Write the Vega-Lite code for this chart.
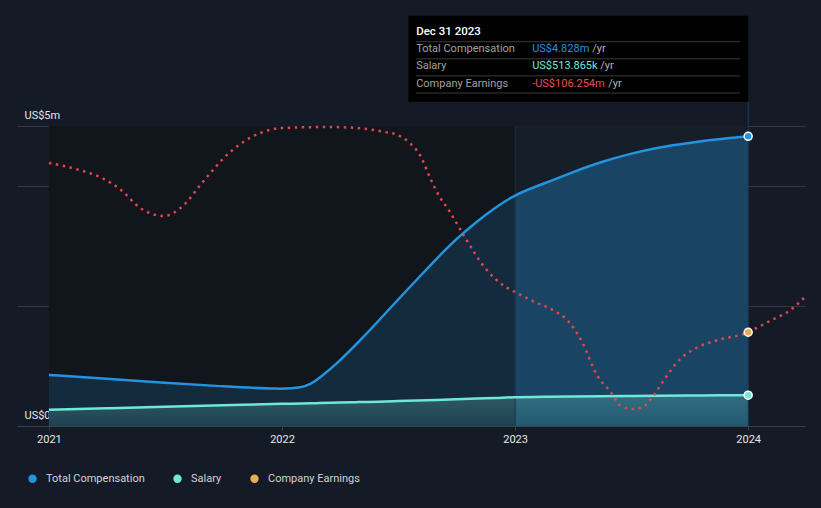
{
  "$schema": "https://vega.github.io/schema/vega-lite/v6.json",
  "width": 788,
  "height": 426,
  "autosize": {"type": "none"},
  "padding": {"left": 17, "top": 0, "right": 16, "bottom": 82},
  "background": "#151b26",
  "config": {
    "view": {"stroke": null},
    "font": "Roboto",
    "axisX": {
      "grid": false,
      "tickCount": {"interval": "year", "step": 1},
      "labelExpr": "timeFormat(datum.value, '%Y')",
      "domainColor": "#3a404a",
      "tickColor": "#3a404a",
      "tickSize": 4,
      "labelColor": "#e6e6e6",
      "labelFontSize": 11,
      "labelFont": "Roboto",
      "labelPadding": 3,
      "labelFlush": false
    }
  },
  "datasets": {
    "comp": [
      {"date": "2021-01-01T00:00", "total": 0.85, "salary": 0.27},
      {"date": "2021-04-01T00:00", "total": 0.79, "salary": 0.295},
      {"date": "2021-07-01T00:00", "total": 0.72, "salary": 0.32},
      {"date": "2021-10-01T00:00", "total": 0.66, "salary": 0.345},
      {"date": "2022-01-01T00:00", "total": 0.61, "salary": 0.37},
      {"date": "2022-02-01T00:00", "total": 0.64, "salary": 0.375},
      {"date": "2022-02-15T00:00", "total": 0.7, "salary": 0.378},
      {"date": "2022-03-01T00:00", "total": 0.8, "salary": 0.382},
      {"date": "2022-04-01T00:00", "total": 1.08, "salary": 0.39},
      {"date": "2022-05-01T00:00", "total": 1.4, "salary": 0.398},
      {"date": "2022-06-01T00:00", "total": 1.75, "salary": 0.406},
      {"date": "2022-07-01T00:00", "total": 2.1, "salary": 0.415},
      {"date": "2022-08-01T00:00", "total": 2.45, "salary": 0.424},
      {"date": "2022-09-01T00:00", "total": 2.8, "salary": 0.434},
      {"date": "2022-10-01T00:00", "total": 3.12, "salary": 0.445},
      {"date": "2022-11-01T00:00", "total": 3.4, "salary": 0.457},
      {"date": "2022-12-01T00:00", "total": 3.64, "salary": 0.468},
      {"date": "2023-01-01T00:00", "total": 3.86, "salary": 0.48},
      {"date": "2023-02-15T00:00", "total": 4.04, "salary": 0.486},
      {"date": "2023-04-01T00:00", "total": 4.23, "salary": 0.492},
      {"date": "2023-05-15T00:00", "total": 4.4, "salary": 0.497},
      {"date": "2023-07-01T00:00", "total": 4.54, "salary": 0.501},
      {"date": "2023-08-15T00:00", "total": 4.65, "salary": 0.505},
      {"date": "2023-10-01T00:00", "total": 4.72, "salary": 0.508},
      {"date": "2023-11-15T00:00", "total": 4.78, "salary": 0.511},
      {"date": "2024-01-01T00:00", "total": 4.828, "salary": 0.513865}
    ],
    "earnings": [
      {"date": "2021-01-01T00:00", "earnings": 63},
      {"date": "2021-02-12T00:00", "earnings": 57},
      {"date": "2021-03-25T00:00", "earnings": 48},
      {"date": "2021-04-22T00:00", "earnings": 37},
      {"date": "2021-05-24T00:00", "earnings": 18},
      {"date": "2021-06-29T00:00", "earnings": 10},
      {"date": "2021-08-02T00:00", "earnings": 22},
      {"date": "2021-08-26T00:00", "earnings": 41},
      {"date": "2021-10-12T00:00", "earnings": 74},
      {"date": "2021-11-28T00:00", "earnings": 93},
      {"date": "2022-01-01T00:00", "earnings": 98},
      {"date": "2022-03-16T00:00", "earnings": 99},
      {"date": "2022-04-28T00:00", "earnings": 98},
      {"date": "2022-06-11T00:00", "earnings": 94},
      {"date": "2022-07-01T00:00", "earnings": 91},
      {"date": "2022-07-20T00:00", "earnings": 83},
      {"date": "2022-08-05T00:00", "earnings": 71},
      {"date": "2022-08-21T00:00", "earnings": 48},
      {"date": "2022-09-05T00:00", "earnings": 29},
      {"date": "2022-09-18T00:00", "earnings": 17},
      {"date": "2022-10-15T00:00", "earnings": -12},
      {"date": "2022-11-15T00:00", "earnings": -42},
      {"date": "2022-12-15T00:00", "earnings": -60},
      {"date": "2023-01-01T00:00", "earnings": -66},
      {"date": "2023-02-01T00:00", "earnings": -76},
      {"date": "2023-03-01T00:00", "earnings": -84},
      {"date": "2023-03-25T00:00", "earnings": -95},
      {"date": "2023-04-15T00:00", "earnings": -115},
      {"date": "2023-05-10T00:00", "earnings": -150},
      {"date": "2023-06-01T00:00", "earnings": -167},
      {"date": "2023-06-14T00:00", "earnings": -179},
      {"date": "2023-07-03T00:00", "earnings": -183},
      {"date": "2023-07-20T00:00", "earnings": -181},
      {"date": "2023-08-04T00:00", "earnings": -171},
      {"date": "2023-08-20T00:00", "earnings": -156},
      {"date": "2023-09-15T00:00", "earnings": -134},
      {"date": "2023-10-15T00:00", "earnings": -121},
      {"date": "2023-11-15T00:00", "earnings": -114},
      {"date": "2024-01-01T00:00", "earnings": -106.254},
      {"date": "2024-01-20T00:00", "earnings": -100},
      {"date": "2024-02-10T00:00", "earnings": -93},
      {"date": "2024-03-05T00:00", "earnings": -85},
      {"date": "2024-03-30T00:00", "earnings": -71}
    ],
    "latest": [
      {"date": "2024-01-01T00:00", "series": "Total Compensation", "value": 4.828},
      {"date": "2024-01-01T00:00", "series": "Salary", "value": 0.513865},
      {"date": "2024-01-01T00:00", "series": "Company Earnings", "value": -106.254}
    ],
    "tooltip": [
      {"row": 0, "label": "Total Compensation", "value": "US$4.828m", "series": "Total Compensation"},
      {"row": 1, "label": "Salary", "value": "US$513.865k", "series": "Salary"},
      {"row": 2, "label": "Company Earnings", "value": "-US$106.254m", "series": "Company Earnings"}
    ],
    "header": [{"title": "Dec 31 2023"}],
    "one": [{"id": 1}]
  },
  "layer": [
    {
      "layer": [
        {
          "data": {"name": "one"},
          "mark": {"type": "rect", "fill": "#11151c"},
          "encoding": {
            "x": {"datum": {"year": 2021, "month": 1, "date": 1}, "type": "temporal"},
            "x2": {"datum": {"year": 2023, "month": 1, "date": 1}},
            "y": {"datum": 0, "type": "quantitative"},
            "y2": {"datum": 5}
          }
        },
        {
          "data": {"name": "one"},
          "mark": {"type": "rect", "fill": "#161e2a"},
          "encoding": {
            "x": {"datum": {"year": 2023, "month": 1, "date": 1}, "type": "temporal"},
            "x2": {"datum": {"year": 2024, "month": 1, "date": 1}},
            "y": {"datum": 0, "type": "quantitative"},
            "y2": {"datum": 5}
          }
        },
        {
          "data": {"name": "comp"},
          "mark": {
            "type": "area",
            "interpolate": "basis",
            "fill": {
              "gradient": "linear", "x1": 0, "x2": 1, "y1": 0, "y2": 0,
              "stops": [
                {"offset": 0, "color": "rgba(35,148,223,0.17)"},
                {"offset": 0.664, "color": "rgba(35,148,223,0.17)"},
                {"offset": 0.668, "color": "rgba(35,148,223,0.32)"},
                {"offset": 1, "color": "rgba(35,148,223,0.32)"}
              ]
            }
          },
          "encoding": {
            "x": {
              "field": "date", "type": "temporal", "title": null,
              "scale": {"domain": [{"year": 2020, "month": 11, "date": 12}, {"year": 2024, "month": 3, "date": 30}]}
            },
            "y": {
              "field": "total", "type": "quantitative", "title": null,
              "scale": {"domain": [0, 7.1], "nice": false, "zero": false},
              "axis": {
                "grid": true,
                "gridColor": "#343a44",
                "gridWidth": 1,
                "values": [0, 2, 4, 5],
                "labelExpr": "datum.value == 0 ? 'US$0' : (datum.value == 5 ? 'US$5m' : '')",
                "domain": false,
                "ticks": false,
                "labelAlign": "left",
                "labelBaseline": "alphabetic",
                "labelPadding": -7,
                "labelOffset": -8,
                "labelColor": "#e6e6e6",
                "labelFontSize": 11,
                "labelFont": "Roboto"
              }
            }
          }
        },
        {
          "data": {"name": "comp"},
          "mark": {
            "type": "area",
            "interpolate": "monotone",
            "fill": {
              "gradient": "linear", "x1": 0, "x2": 0, "y1": 0, "y2": 1,
              "stops": [
                {"offset": 0, "color": "rgba(113,231,214,0.26)"},
                {"offset": 1, "color": "rgba(113,231,214,0.12)"}
              ]
            }
          },
          "encoding": {
            "x": {"field": "date", "type": "temporal", "title": null},
            "y": {"field": "salary", "type": "quantitative", "title": null}
          }
        },
        {
          "data": {"name": "one"},
          "mark": {"type": "rule", "color": "#1b2f45", "strokeWidth": 1},
          "encoding": {
            "x": {"datum": {"year": 2023, "month": 1, "date": 1}, "type": "temporal"},
            "y": {"datum": 0, "type": "quantitative"},
            "y2": {"datum": 5}
          }
        },
        {
          "data": {"name": "one"},
          "mark": {"type": "rule", "color": "#1f3b59", "strokeWidth": 1},
          "encoding": {
            "x": {"datum": {"year": 2024, "month": 1, "date": 1}, "type": "temporal"},
            "y": {"datum": 0, "type": "quantitative"},
            "y2": {"datum": 5.405}
          }
        },
        {
          "data": {"name": "comp"},
          "mark": {"type": "line", "interpolate": "basis", "color": "#2394df", "strokeWidth": 2.5},
          "encoding": {
            "x": {"field": "date", "type": "temporal", "title": null},
            "y": {"field": "total", "type": "quantitative", "title": null}
          }
        },
        {
          "data": {"name": "comp"},
          "mark": {"type": "line", "interpolate": "monotone", "color": "#71e7d6", "strokeWidth": 2.5},
          "encoding": {
            "x": {"field": "date", "type": "temporal", "title": null},
            "y": {"field": "salary", "type": "quantitative", "title": null}
          }
        }
      ]
    },
    {
      "layer": [
        {
          "data": {"name": "earnings"},
          "mark": {"type": "line", "interpolate": "monotone", "color": "#e0474c", "strokeWidth": 2.5, "strokeDash": [2.5, 4.5], "clip": true},
          "encoding": {
            "x": {"field": "date", "type": "temporal", "title": null},
            "y": {"field": "earnings", "type": "quantitative", "axis": null, "scale": {"domain": [-200, 226], "nice": false, "zero": false}}
          }
        },
        {
          "data": {"name": "latest"},
          "transform": [{"filter": "datum.series == 'Company Earnings'"}],
          "mark": {"type": "point", "filled": true, "opacity": 1, "size": 64, "stroke": "#ffffff", "strokeWidth": 1.5, "shape": "circle"},
          "encoding": {
            "x": {"field": "date", "type": "temporal", "title": null},
            "y": {"field": "value", "type": "quantitative", "axis": null},
            "color": {"field": "series", "type": "nominal"}
          }
        }
      ]
    },
    {
      "data": {"name": "latest"},
      "transform": [{"filter": "datum.series != 'Company Earnings'"}],
      "mark": {"type": "point", "filled": true, "opacity": 1, "size": 64, "stroke": "#ffffff", "strokeWidth": 1.5, "shape": "circle"},
      "encoding": {
        "x": {"field": "date", "type": "temporal", "title": null},
        "y": {"field": "value", "type": "quantitative", "axis": null, "scale": {"domain": [0, 7.1], "nice": false, "zero": false}},
        "color": {
          "field": "series", "type": "nominal",
          "scale": {"domain": ["Total Compensation", "Salary", "Company Earnings"], "range": ["#2394df", "#71e7d6", "#e9ad5a"]},
          "legend": {
            "title": null, "orient": "none", "legendX": 10, "legendY": 473, "direction": "horizontal",
            "symbolType": "circle", "symbolSize": 70, "symbolStrokeWidth": 0,
            "labelColor": "#d0d3d8", "labelFontSize": 11, "labelFont": "Roboto",
            "columnPadding": 27, "labelOffset": 8, "padding": 0
          }
        }
      }
    },
    {
      "layer": [
        {
          "data": {"name": "one"},
          "mark": {"type": "rect", "fill": "#000000"},
          "encoding": {
            "x": {"datum": {"year": 2022, "month": 7, "date": 18}, "type": "temporal"},
            "x2": {"datum": {"year": 2024, "month": 1, "date": 1}},
            "y": {"datum": -2.52, "type": "quantitative", "axis": null, "scale": {"domain": [21.473, -3.439], "nice": false, "zero": false}},
            "y2": {"datum": 2.51}
          }
        },
        {
          "data": {"name": "one"},
          "mark": {"type": "rule", "color": "#3a3a3a", "strokeWidth": 1},
          "encoding": {
            "x": {"datum": {"year": 2022, "month": 7, "date": 30}, "type": "temporal"},
            "x2": {"datum": {"year": 2023, "month": 12, "date": 19}},
            "y": {"datum": -1, "type": "quantitative"}
          }
        },
        {
          "data": {"name": "tooltip"},
          "mark": {"type": "rule", "color": "#3a3a3a", "strokeWidth": 1},
          "encoding": {
            "x": {"datum": {"year": 2022, "month": 7, "date": 30}, "type": "temporal"},
            "x2": {"datum": {"year": 2023, "month": 12, "date": 19}},
            "y": {"field": "row", "type": "quantitative"}
          }
        },
        {
          "data": {"name": "header"},
          "mark": {"type": "text", "align": "left", "baseline": "middle", "dx": -332, "dy": -10, "fontSize": 11.5, "fontWeight": 500, "color": "#ffffff"},
          "encoding": {
            "x": {"datum": {"year": 2024, "month": 1, "date": 1}, "type": "temporal"},
            "y": {"datum": -1, "type": "quantitative"},
            "text": {"field": "title"}
          }
        },
        {
          "data": {"name": "tooltip"},
          "mark": {"type": "text", "align": "left", "baseline": "middle", "dx": -332, "dy": -9.5, "fontSize": 11, "color": "#a0a0a0"},
          "encoding": {
            "x": {"datum": {"year": 2024, "month": 1, "date": 1}, "type": "temporal"},
            "y": {"field": "row", "type": "quantitative"},
            "text": {"field": "label"}
          }
        },
        {
          "data": {"name": "tooltip"},
          "mark": {"type": "text", "align": "left", "baseline": "middle", "dx": -216, "dy": -9.5, "fontSize": 11},
          "encoding": {
            "x": {"datum": {"year": 2024, "month": 1, "date": 1}, "type": "temporal"},
            "y": {"field": "row", "type": "quantitative"},
            "text": {"field": "value"},
            "fill": {
              "field": "series", "type": "nominal", "legend": null,
              "scale": {"domain": ["Total Compensation", "Salary", "Company Earnings"], "range": ["#2394df", "#71e7d6", "#e64f4f"]}
            }
          }
        },
        {
          "data": {"name": "tooltip"},
          "transform": [{"filter": "datum.row == 0"}],
          "mark": {"type": "text", "align": "left", "baseline": "middle", "dx": -156, "dy": -9.5, "fontSize": 11, "color": "#b4b4b4", "text": "/yr"},
          "encoding": {
            "x": {"datum": {"year": 2024, "month": 1, "date": 1}, "type": "temporal"},
            "y": {"field": "row", "type": "quantitative"}
          }
        },
        {
          "data": {"name": "tooltip"},
          "transform": [{"filter": "datum.row == 1"}],
          "mark": {"type": "text", "align": "left", "baseline": "middle", "dx": -148, "dy": -9.5, "fontSize": 11, "color": "#b4b4b4", "text": "/yr"},
          "encoding": {
            "x": {"datum": {"year": 2024, "month": 1, "date": 1}, "type": "temporal"},
            "y": {"field": "row", "type": "quantitative"}
          }
        },
        {
          "data": {"name": "tooltip"},
          "transform": [{"filter": "datum.row == 2"}],
          "mark": {"type": "text", "align": "left", "baseline": "middle", "dx": -140, "dy": -9.5, "fontSize": 11, "color": "#b4b4b4", "text": "/yr"},
          "encoding": {
            "x": {"datum": {"year": 2024, "month": 1, "date": 1}, "type": "temporal"},
            "y": {"field": "row", "type": "quantitative"}
          }
        }
      ]
    }
  ],
  "resolve": {"scale": {"y": "independent"}, "axis": {"y": "independent"}}
}
